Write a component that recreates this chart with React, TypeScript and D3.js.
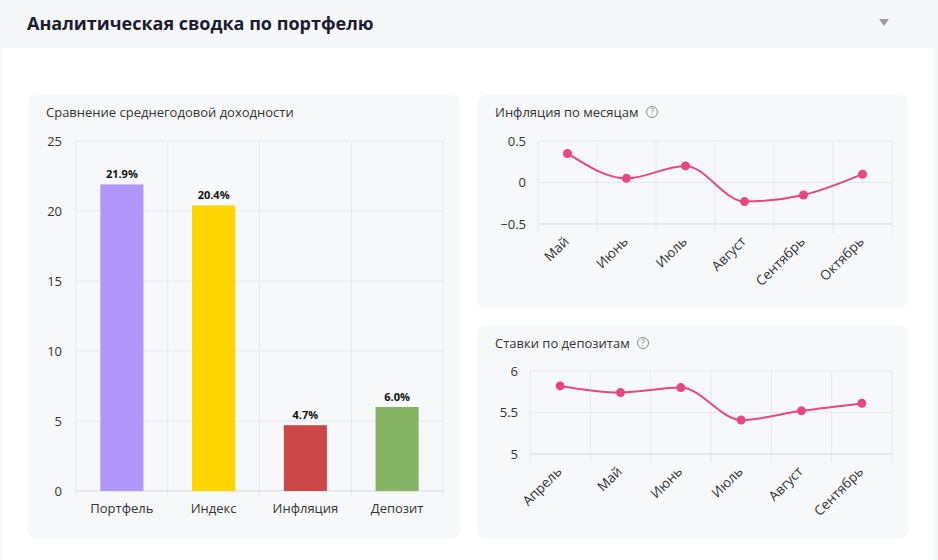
import React from "react";
import * as d3 from "d3";

const barCategories = ["Портфель", "Индекс", "Инфляция", "Депозит"];
const barValues = [21.9, 20.4, 4.7, 6.0];
const barColors = ["#b197fc", "#ffd400", "#cc4848", "#85b564"];
const barTicks = [0, 5, 10, 15, 20, 25];

const inflMonths = ["Май", "Июнь", "Июль", "Август", "Сентябрь", "Октябрь"];
const inflValues = [0.35, 0.05, 0.2, -0.23, -0.15, 0.1];
const inflTicks = [-0.5, 0, 0.5];

const depMonths = ["Апрель", "Май", "Июнь", "Июль", "Август", "Сентябрь"];
const depValues = [5.82, 5.74, 5.8, 5.41, 5.52, 5.61];
const depTicks = [5, 5.5, 6];

const FONT = "'Open Sans', 'Noto Sans', sans-serif";
const GRID = "#e6e8ee";
const AXIS = "#d3d7e2";
const TEXT = "#333";
const LINE = "#e8467c";

function Panel({ x, y, w, h, title, help }: any) {
  return (
    <g>
      <rect x={x} y={y} width={w} height={h} rx={8} fill="#f7f8fa" />
      <text x={x + 18} y={y + 22} fontSize={13} fill={TEXT} fontFamily={FONT}>
        {title}
      </text>
      {help && <HelpIcon x={help} y={y + 17} />}
    </g>
  );
}

function HelpIcon({ x, y }: any) {
  return (
    <g>
      <circle cx={x} cy={y} r={5.5} fill="none" stroke="#888" strokeWidth={1} />
      <text x={x} y={y + 3} fontSize={8.5} textAnchor="middle" fill="#888" fontFamily={FONT}>
        ?
      </text>
    </g>
  );
}

function BarChart() {
  const x = d3.scaleBand<string>().domain(barCategories).range([76, 443]).padding(0);
  const y = d3.scaleLinear().domain([0, 25]).range([491, 141]);
  const bw = x.bandwidth() * 0.47;
  const bounds = barCategories.map((c) => x(c)!).concat([443]);
  return (
    <g fontFamily={FONT}>
      {barTicks.map((t) => (
        <g key={t}>
          {t !== 0 && <line x1={76} x2={443} y1={y(t)} y2={y(t)} stroke={GRID} />}
          <text x={62} y={y(t)} dy="0.35em" textAnchor="end" fontSize={13} fill={TEXT}>
            {t}
          </text>
        </g>
      ))}
      {bounds.map((b, i) => (
        <line key={i} x1={b} x2={b} y1={y(25)} y2={y(0) + 5} stroke={GRID} />
      ))}
      <line x1={76} x2={443} y1={y(0)} y2={y(0)} stroke={AXIS} />
      {barCategories.map((c, i) => {
        const cx = x(c)! + x.bandwidth() / 2;
        return (
          <g key={c}>
            <rect x={cx - bw / 2} y={y(barValues[i])} width={bw} height={y(0) - y(barValues[i])} fill={barColors[i]} />
            <text x={cx} y={y(barValues[i]) - 6} textAnchor="middle" fontSize={11} fontWeight="bold" fill="#111">
              {barValues[i].toFixed(1)}%
            </text>
            <text x={cx} y={513} textAnchor="middle" fontSize={13} fill={TEXT}>
              {c}
            </text>
          </g>
        );
      })}
    </g>
  );
}

function LineChart({ cats, vals, ticks, x0, x1, yTop, yBot, fmt }: any) {
  const x = d3.scaleBand<string>().domain(cats).range([x0, x1]).padding(0);
  const y = d3.scaleLinear().domain([ticks[0], ticks[ticks.length - 1]]).range([yBot, yTop]);
  const bounds = cats.map((c: string) => x(c)!).concat([x1]);
  const pts: [number, number][] = cats.map((c: string, i: number) => [x(c)! + x.bandwidth() / 2, y(vals[i])]);
  const path = d3.line().curve(d3.curveMonotoneX)(pts) || "";
  return (
    <g fontFamily={FONT}>
      {ticks.map((t: number) => (
        <g key={t}>
          {t !== ticks[0] && <line x1={x0} x2={x1} y1={y(t)} y2={y(t)} stroke={GRID} />}
          <text x={x0 - 12} y={y(t)} dy="0.35em" textAnchor="end" fontSize={13} fill={TEXT}>
            {fmt(t)}
          </text>
        </g>
      ))}
      {bounds.map((b: number, i: number) => (
        <line key={i} x1={b} x2={b} y1={yTop} y2={yBot + 9} stroke={GRID} />
      ))}
      <line x1={x0} x2={x1} y1={yBot} y2={yBot} stroke={AXIS} />
      <path d={path} fill="none" stroke={LINE} strokeWidth={2} />
      {pts.map((p, i) => (
        <circle key={i} cx={p[0]} cy={p[1]} r={4.5} fill={LINE} />
      ))}
      {cats.map((c: string, i: number) => (
        <text
          key={c}
          transform={`translate(${pts[i][0] - 1},${yBot + 15}) rotate(-45)`}
          textAnchor="end"
          dy="0.35em"
          fontSize={13.5}
          fill={TEXT}
        >
          {c}
        </text>
      ))}
    </g>
  );
}

export default function App() {
  const fmtNum = (t: number) => (t === 0 ? "0" : String(t).replace("-", "−"));
  return (
    <svg
      width={938}
      height={560}
      style={{ position: "fixed", left: 0, top: 0 }}
      fontFamily={FONT}
    >
      <rect x={0} y={0} width={938} height={560} fill="#f6f7f9" />
      <rect x={2} y={48} width={932} height={512} fill="#ffffff" />
      <text x={27} y={30} fontSize={18} fontWeight="bold" fill="#1c1c30" fontFamily={FONT}>
        Аналитическая сводка по портфелю
      </text>
      <path d="M879,19 L889,19 L884,26 Z" fill="#9a9cab" />
      <Panel x={28} y={95} w={432} h={443} title="Сравнение среднегодовой доходности" />
      <Panel x={477} y={95} w={431} h={213} title="Инфляция по месяцам" help={652} />
      <Panel x={477} y={326} w={431} h={212} title="Ставки по депозитам" help={643} />
      <BarChart />
      <LineChart cats={inflMonths} vals={inflValues} ticks={inflTicks} x0={538} x1={892} yTop={141} yBot={224} fmt={fmtNum} />
      <LineChart cats={depMonths} vals={depValues} ticks={depTicks} x0={530} x1={892} yTop={371} yBot={454} fmt={(t: number) => String(t)} />
    </svg>
  );
}
